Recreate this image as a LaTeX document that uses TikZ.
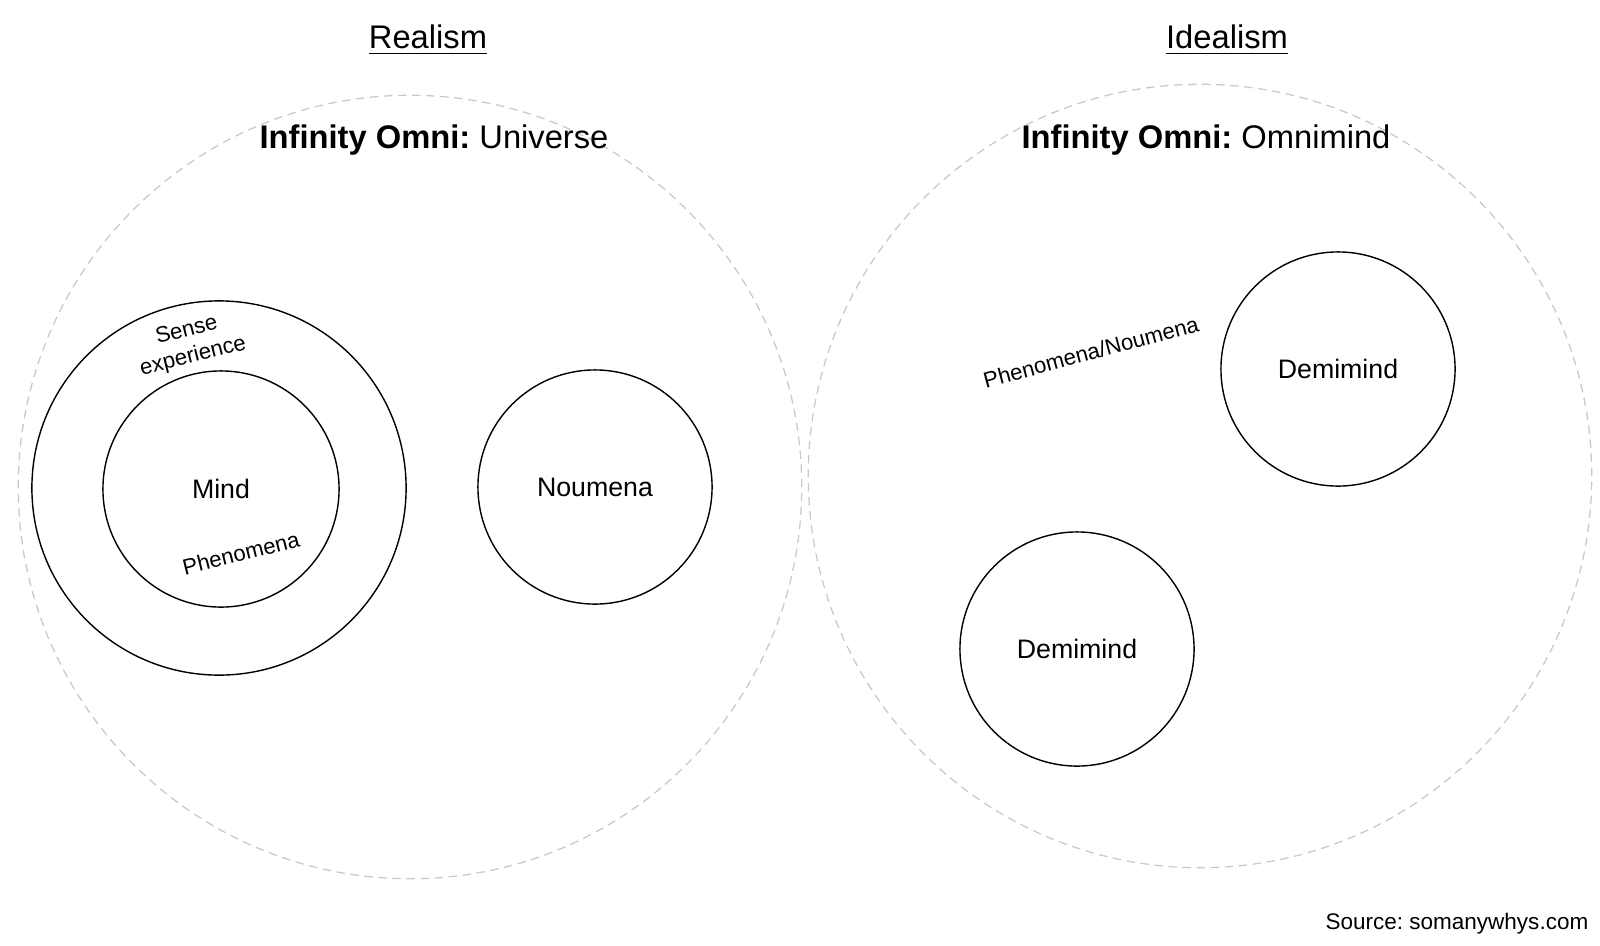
\documentclass[tikz,border=0pt]{standalone}
\usepackage{fontspec}
\setsansfont{Liberation Sans}
\usetikzlibrary{positioning}
\definecolor{ink}{HTML}{000000}
\definecolor{faint}{HTML}{C8C8C8}
\definecolor{paper}{HTML}{FFFFFF}
\frenchspacing
\tikzset{
  font=\sffamily,
  world/.style={
    circle,
    draw=faint,
    dash pattern=on 2.4pt off 1.6pt,
    line width=0.35pt,
    minimum size=7.83cm,
    inner sep=0pt
  },
  realm/.style={
    circle,
    draw=ink,
    line width=0.4pt,
    minimum size=2.34cm,
    inner sep=0pt,
    font=\sffamily\fontsize{7.6pt}{9pt}\selectfont
  },
  heading/.style={
    font=\sffamily\fontsize{9.3pt}{11pt}\selectfont,
    text=ink
  },
  curved/.style={
    font=\sffamily\fontsize{6.3pt}{7.6pt}\selectfont,
    text=ink,
    align=center,
    inner sep=0pt
  }
}

\begin{document}
\begin{tikzpicture}[x=0.01cm, y=-0.01cm]
  \useasboundingbox[fill=paper] (0,0) rectangle (1600,945);

  %====================================================================
  % Headings over the two views
  %====================================================================
  \node[heading] (realism)  at ( 428, 40) {\underline{Realism}};
  \node[heading] (idealism) at (1227, 40) {\underline{Idealism}};

  %====================================================================
  % Outer dashed circles -- the infinity omni of each view
  %====================================================================
  \node[world] (universe) at ( 410, 487) {};
  \node[world] (omnimind) at (1200, 476) {};

  \node[heading] (universe_title) at ( 434, 140) {\textbf{Infinity Omni:} Universe};
  \node[heading] (omnimind_title) at (1206, 140) {\textbf{Infinity Omni:} Omnimind};

  %====================================================================
  % Realism: sense experience wraps the mind, noumena stands apart
  %====================================================================
  \node[realm, minimum size=3.74cm] (sense) at (219, 488) {};
  \node[realm, minimum size=2.36cm] (mind)  at (221, 489) {Mind};
  \node[realm] (noumena) at (595, 487) {Noumena};

  \node[curved, rotate=14] (sense_label) at (190, 344) {Sense\\experience};
  \node[curved, rotate=14] (phen_label)  at (241, 553) {Phenomena};

  %====================================================================
  % Idealism: demiminds inside the omnimind
  %====================================================================
  \node[realm] (demi_top)    at (1338, 369) {Demimind};
  \node[realm] (demi_bottom) at (1077, 649) {Demimind};

  \node[curved, rotate=15] (phen_noum) at (1091, 352) {Phenomena/Noumena};

  %====================================================================
  % Footer
  %====================================================================
  \node[curved, anchor=east, font=\sffamily\fontsize{6.4pt}{7.5pt}\selectfont]
    (source) at (1589, 924) {Source: somanywhys.com};

\end{tikzpicture}
\end{document}
